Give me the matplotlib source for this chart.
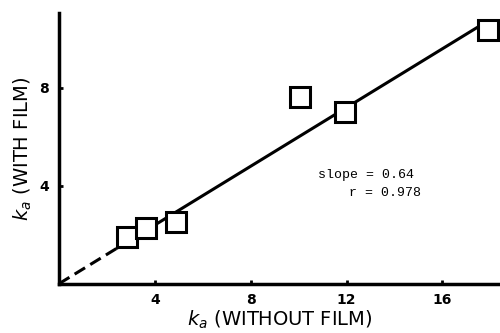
import numpy as np
import matplotlib
matplotlib.use('Agg')
import matplotlib.pyplot as plt

# data
ka_without = [2.85, 3.65, 4.9, 10.05, 11.95, 17.9]
ka_with = [1.92, 2.28, 2.53, 7.63, 7.02, 10.35]
fit_slope = 0.6
dash_end = 2.4
line_end = 17.6
xticks = [4, 8, 12, 16]
yticks = [4, 8]

fig = plt.figure(figsize=(5, 3.33), dpi=100)
ax = fig.add_axes([0.118, 0.148, 0.882, 0.813])

xd = np.array([0, dash_end])
xs = np.array([dash_end, line_end])
ax.plot(xd, fit_slope * xd, color='black', lw=2.2, ls=(0, (4, 2)), zorder=2)
ax.plot(xs, fit_slope * xs, color='black', lw=2.2, solid_capstyle='butt', zorder=2)
ax.plot(ka_without, ka_with, ls='none', marker='s', ms=14, mfc='white',
        mec='black', mew=2.2, zorder=3)

ax.text(14.8, 4.45, 'slope = 0.64', fontsize=9.5, family='Liberation Mono',
        ha='right', va='center')
ax.text(15.1, 3.72, 'r = 0.978', fontsize=9.5, family='Liberation Mono',
        ha='right', va='center')

ax.set_xlim(0, 18.4)
ax.set_ylim(0, 11.06)
ax.set_xticks(xticks)
ax.set_yticks(yticks)
ax.tick_params(direction='in', length=3, width=2, labelsize=10, pad=7)
for lab in ax.get_xticklabels() + ax.get_yticklabels():
    lab.set_fontweight('bold')
    lab.set_family('DejaVu Sans')

for side in ['top', 'right']:
    ax.spines[side].set_visible(False)
for side in ['left', 'bottom']:
    ax.spines[side].set_linewidth(2.5)

ax.set_xlabel('$k_a$ (WITHOUT FILM)', fontsize=14, family='DejaVu Sans', labelpad=1)
ax.set_ylabel('$k_a$ (WITH FILM)', fontsize=14, family='DejaVu Sans', labelpad=4)

fig.savefig('out.png', dpi=100)
